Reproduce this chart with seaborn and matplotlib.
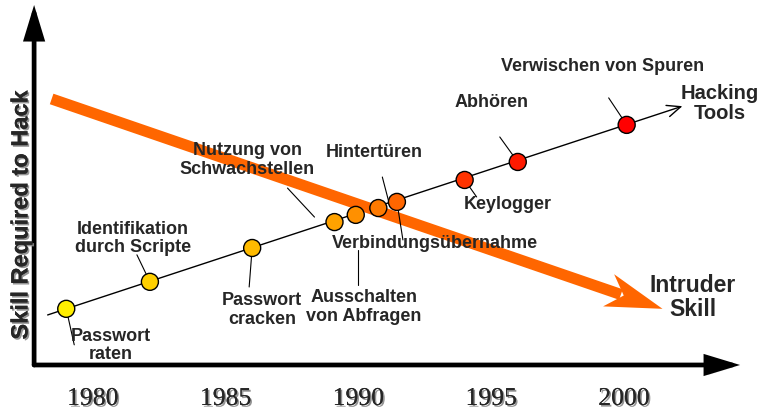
import numpy as np
import matplotlib
matplotlib.use('Agg')
import matplotlib.pyplot as plt
import matplotlib.patheffects as pe
import seaborn as sns

# attack techniques sitting on the "hacking tools" trend line
techniques = ['Passwort\nraten', 'Identifikation\ndurch Scripte', 'Passwort\ncracken',
              'Nutzung von\nSchwachstellen', 'Ausschalten\nvon Abfragen', 'Hintertüren',
              'Verbindungsübernahme', 'Keylogger', 'Abhören', 'Verwischen von Spuren']
years = [1979.0, 1982.15, 1986.0, 1989.1, 1989.9, 1990.75, 1991.45, 1994.0, 1996.0, 2000.1]
skill = [15.6, 23.1, 32.5, 39.7, 41.7, 43.6, 45.3, 51.4, 56.4, 66.7]
point_colors = ['#FFEE00', '#FFD000', '#FFBB00', '#FFA200', '#FF9000', '#FF7A00',
                '#FF6600', '#FF3300', '#FF1A00', '#FF0000']

year_ticks = [1980, 1985, 1990, 1995, 2000]

# trends (start, end)
tools_years = [1978.3, 2002.2]
tools_skill = [13.9, 71.9]
intruder_years = [1978.45, 2001.45]
intruder_skill = [73.9, 15.6]

# label layout: text offset and leader segment, pixels relative to point (y down)
text_off = [(45, 37), (-17, -43), (10, 62), (-87, -62), (8, 92),
            (-4, -56), (38, 42), (43, 25), (-26, -59), (-24, -58)]
leader_off = [((0, 0), (8, 36)), ((0, 0), (-13, -27)), ((0, 0), (-3, 39)),
              ((-47, -34), (-20, -5)), ((2, 35), (2, 70)), ((4, -31), (10, -8)),
              ((0, 0), (6, 38)), ((0, 0), (12, 17)), ((-18, -25), (0, 0)),
              ((-18, -27), (0, 0))]

sns.set_style('white')
plt.rcParams['font.family'] = ['Liberation Sans', 'DejaVu Sans']

fig = plt.figure(figsize=(7.63, 4.12), dpi=100)
ax = fig.add_axes([0, 0, 1, 1])
ax.set_xlim(1976.506, 2005.233)
ax.set_ylim(-13.06, 101.39)
ax.axis('off')


def shift(x, y, dx, dy):
    px, py = ax.transData.transform((x, y))
    return ax.transData.inverted().transform((px + dx, py - dy))


shadow = [pe.withSimplePatchShadow(offset=(1.2, -1.2), shadow_rgbFace='#888888', alpha=0.9),
          pe.Normal()]

# axes with arrows
for xy, xytext in [((2004.37, 0), (1977.79, 0)), ((1977.79, 100), (1977.79, 0))]:
    ax.annotate('', xy=xy, xytext=xytext,
                arrowprops=dict(arrowstyle='-|>,head_length=1.25,head_width=0.38',
                                mutation_scale=15, lw=3.4, color='black',
                                shrinkA=0, shrinkB=0, joinstyle='miter',
                                path_effects=[pe.SimplePatchShadow(offset=(1.5, -1.5),
                                                                   shadow_rgbFace='#777777'),
                                              pe.Normal()]),
                zorder=2)

for yr in year_ticks:
    ax.text(yr, -9.44, str(yr), ha='center', va='center', fontsize=18.5,
            family='Liberation Serif', path_effects=shadow)

ax.text(21 / 763 * (2005.233 - 1976.506) + 1976.506, 41.7, 'Skill Required to Hack',
        rotation=90, ha='center', va='center', fontsize=17, fontweight='bold',
        path_effects=shadow)

# hacking tools trend
ax.annotate('', xy=(tools_years[1], tools_skill[1]), xytext=(tools_years[0], tools_skill[0]),
            arrowprops=dict(arrowstyle='->,head_length=0.7,head_width=0.3', mutation_scale=14,
                            lw=1.0, color='black', shrinkA=0, shrinkB=0), zorder=2)
ax.annotate('Hacking\nTools', xy=(tools_years[1], tools_skill[1]), xytext=(37, 3),
            textcoords='offset pixels', ha='center', va='center', fontsize=14.5,
            fontweight='bold', linespacing=1.05, zorder=6)

# intruder skill arrow
s = ax.transData.transform((intruder_years[0], intruder_skill[0]))
t = ax.transData.transform((intruder_years[1], intruder_skill[1]))
u = (t - s) / np.hypot(*(t - s))
n = np.array([-u[1], u[0]])
shaft_end = ax.transData.inverted().transform(t - 44 * u)
ax.plot([intruder_years[0], shaft_end[0]], [intruder_skill[0], shaft_end[1]],
        color='#FF6600', lw=8, solid_capstyle='butt', zorder=3)
head = np.array([t, t - 57 * u + 17 * n, t - 41 * u, t - 57 * u - 17 * n])
head = ax.transData.inverted().transform(head)
ax.fill(head[:, 0], head[:, 1], color='#FF6600', lw=0, zorder=3)
ax.annotate('Intruder\nSkill', xy=(intruder_years[1], intruder_skill[1]), xytext=(30, 11),
            textcoords='offset pixels', ha='center', va='center', fontsize=16.5,
            fontweight='bold', linespacing=1.05, zorder=6)

# leader lines
for x, y, (a, b) in zip(years, skill, leader_off):
    p0 = shift(x, y, *a)
    p1 = shift(x, y, *b)
    ax.plot([p0[0], p1[0]], [p0[1], p1[1]], color='black', lw=0.8, zorder=4)

sns.scatterplot(x=years, y=skill, hue=techniques, palette=point_colors, s=150,
                edgecolor='black', linewidth=1.0, legend=False, ax=ax, zorder=5)

for x, y, lab, (dx, dy) in zip(years, skill, techniques, text_off):
    ax.annotate(lab, xy=(x, y), xytext=(dx, -dy), textcoords='offset pixels',
                ha='center', va='center', fontsize=13, fontweight='bold',
                linespacing=1.1, zorder=6)

fig.savefig('out.png', dpi=100)
